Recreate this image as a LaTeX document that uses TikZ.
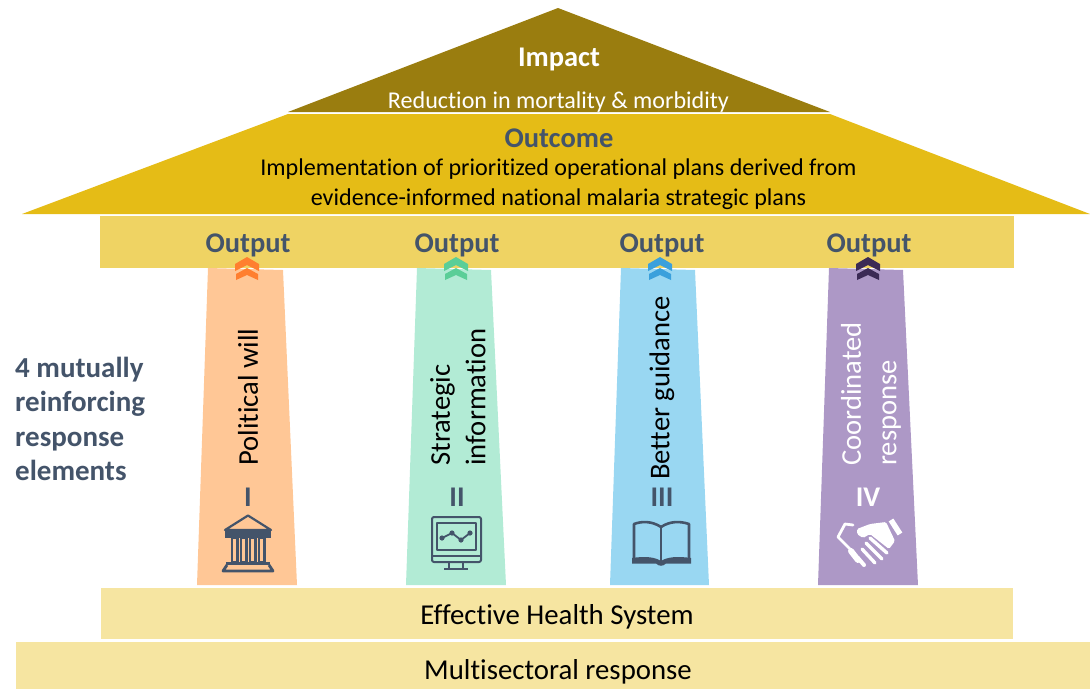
\documentclass[tikz,border=0pt]{standalone}
\usepackage{fontspec}
\setmainfont{Carlito}[Ligatures=NoCommon]
\definecolor{roofa}{HTML}{9A7D0F}
\definecolor{roofb}{HTML}{E5BC16}
\definecolor{band}{HTML}{EFD363}
\definecolor{pale}{HTML}{F6E5A1}
\definecolor{slate}{HTML}{44546A}
\definecolor{pa}{HTML}{FFC796}
\definecolor{pb}{HTML}{B2EBD5}
\definecolor{pc}{HTML}{99D7F2}
\definecolor{pd}{HTML}{AD98C6}
\definecolor{ca}{HTML}{FF7F2F}
\definecolor{cb}{HTML}{5BCE98}
\definecolor{cc}{HTML}{3AA0DC}
\definecolor{cd}{HTML}{3B2A55}
\tikzset{
  x=1pt,y=-1pt,
  lbl/.style={inner sep=0pt,align=center,font=\fontsize{28.8}{33}\selectfont},
  bodytxt/.style={inner sep=0pt,align=center,font=\fontsize{24.1}{29.5}\selectfont},
  hd/.style={inner sep=0pt,font=\fontsize{28.5}{32}\selectfont\bfseries,text=slate},
  vert/.style={inner sep=0pt,align=left,rotate=90,font=\fontsize{28.6}{35.5}\selectfont},
  num/.style={inner sep=0pt,font=\fontsize{28.5}{32}\selectfont\bfseries,text=slate},
  chev/.pic={
    \fill[pic actions] (0,0)--(12,7)--(12,14)--(0,8)--(-12,14)--(-12,7)--cycle;
    \fill[pic actions] (0,11)--(11,17)--(11,23)--(0,18)--(-11,23)--(-11,17)--cycle;
  },
  ic/.style={draw=slate,line width=2pt,line join=round,fill=none},
}
\begin{document}
\begin{tikzpicture}
\useasboundingbox (0,0) rectangle (1090,689);
% roofs and bands
\fill[roofa] (558,8)--(830,112)--(288,112)--cycle;
\fill[roofb] (288,114)--(830,114)--(1090,214)--(22,214)--cycle;
\fill[band] (100,216) rectangle (1014,268);
\fill[pale] (101,588) rectangle (1013,639);
\fill[pale] (16,642) rectangle (1090,689);
% pillars
\fill[pa] (208,268)--(283,270)--(297,585)--(197,585)--cycle;
\fill[pb] (417,268)--(491,270)--(506,585)--(406,585)--cycle;
\fill[pc] (621,268)--(695,270)--(709,585)--(610,585)--cycle;
\fill[pd] (829,268)--(903,270)--(918,585)--(818,585)--cycle;
% chevrons
\pic[fill=ca] at (247,257) {chev};
\pic[fill=cb] at (456,257) {chev};
\pic[fill=cc] at (660,257) {chev};
\pic[fill=cd] at (868,257) {chev};
% text
\node[inner sep=0pt,text=white,font=\fontsize{28.5}{32}\selectfont\bfseries] (impact) at (559,59) {Impact};
\node[bodytxt,text=white] (reduction) at (558.5,102) {Reduction in mortality \& morbidity};
\node[hd] (outcome) at (559,138) {Outcome};
\node[bodytxt] (impl) at (558.5,184) {Implementation of prioritized operational plans derived from\\evidence-informed national malaria strategic plans};
\node[hd] (o1) at (248,245) {Output};
\node[hd] (o2) at (457,245) {Output};
\node[hd] (o3) at (662,245) {Output};
\node[hd] (o4) at (869,245) {Output};
\node[vert] (v1) at (248,397) {Political will};
\node[vert] (v2) at (458,397) {Strategic\\information};
\node[vert] (v3) at (662,388) {Better guidance};
\node[vert,text=white] (v4) at (871,394) {Coordinated\\response};
\node[num] (n1) at (248,497) {I};
\node[num] (n2) at (457,497) {II};
\node[num] (n3) at (662,497) {III};
\node[num,text=white] (n4) at (868,497) {IV};
\node[inner sep=0pt,align=left,anchor=north west,text=slate,font=\fontsize{29}{34.3}\selectfont\bfseries] (side) at (15,357) {4 mutually\\reinforcing\\response\\elements};
\node[lbl] (ehs) at (557,616.5) {Effective Health System};
\node[lbl] (ms) at (558,671.5) {Multisectoral response};
% temple icon
\draw[ic,line width=2.2pt] (225,530)--(248,515.5)--(271,530)--cycle;
\fill[slate] (225,530) rectangle (270.5,537.5);
\foreach \xx in {232,241,250,259}{\draw[slate,line width=2.3pt] (\xx,538) rectangle (\xx+5.5,562);}
\fill[slate] (226,562) rectangle (270,565);
\draw[ic,line width=2.8pt] (227,565)--(223,571)--(273,571)--(269,565);
% monitor icon
\draw[ic,rounded corners=2pt] (432,517) rectangle (481,562);
\draw[ic] (437,523) rectangle (476,550);
\draw[ic] (432,556)--(481,556);
\draw[ic] (449,562)--(449,569);
\draw[ic] (463,562)--(463,569);
\draw[ic] (444,569)--(468,569);
\draw[slate,line width=1.8pt] (442,538)--(452,533)--(461,540)--(470,533);
\foreach \p in {(442,538),(452,533),(461,540),(470,533)}{\fill[slate] \p circle (2.6);}
% book icon
\draw[slate,line width=2.6pt,line join=round] (661,527) .. controls (652,521) and (642,521) .. (634,524)--(634,561);
\draw[slate,line width=2.6pt,line join=round] (661,527) .. controls (670,521) and (680,521) .. (689,524)--(689,561);
\draw[slate,line width=1.8pt] (661,527)--(661,561);
\fill[slate] (632,558) .. controls (645,556) and (655,557) .. (661,561) .. controls (667,557) and (677,556) .. (691,558)--(691,563.5)--(666,563.5) .. controls (663,566.5) and (659,566.5) .. (656,563.5)--(632,563.5)--cycle;
% handshake icon
\fill[white,rounded corners=1.5pt] (857,529)--(870,524)--(886,522)--(895,541)--(889,549)--(870,534)--(863,538)--(857,534)--cycle;
\draw[white,line width=5.5pt] (891,520)--(900,534);
\draw[white,line width=2.8pt,line cap=round,line join=round] (853,525)--(845,524)--(838,537)--(850,549);
\draw[white,line width=3.4pt,line cap=round] (870,538)--(887,553);
\draw[white,line width=3.4pt,line cap=round] (866,543)--(882,559);
\draw[white,line width=3.4pt,line cap=round] (862,549)--(875,563);
\draw[white,line width=6pt,line cap=round] (851,551)--(858,560);
\draw[white,line width=4pt,line cap=round] (858,558)--(864,565);
\end{tikzpicture}
\end{document}
